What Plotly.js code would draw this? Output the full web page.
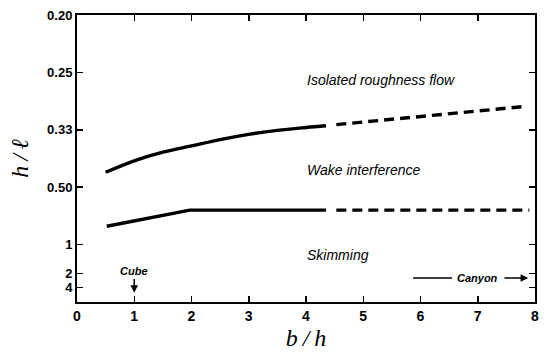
<!DOCTYPE html>
<html><head><meta charset="utf-8">
<script src="https://cdn.plot.ly/plotly-3.0.1.min.js"></script>
<style>body{margin:0;background:#fff}#c{width:550px;height:359px}</style>
</head><body><div id="c"></div>
<script>
// y axis is linear in l/h; tick labels show h/l
const yTickVals = [5, 4, 3, 2, 1, 0.5, 0.25];
const yTickText = ["0.20", "0.25", "0.33", "0.50", "1", "2", "4"];
const xTickVals = [0, 1, 2, 3, 4, 5, 6, 7, 8];

const upperSolidX = [0.5, 1.0, 1.5, 2.0, 2.5, 3.0, 3.5, 4.0, 4.35];
const upperSolidY = [2.26, 2.46, 2.61, 2.72, 2.83, 2.92, 2.99, 3.04, 3.07];
const upperDashX = [4.53, 7.85];
const upperDashY = [3.09, 3.41];

const lowerSolidX = [0.52, 1.97, 4.35];
const lowerSolidY = [1.32, 1.60, 1.60];
const lowerDashX = [4.53, 7.9];
const lowerDashY = [1.60, 1.60];

const regionLabels = ["Isolated roughness flow", "Wake interference", "Skimming"];
const regionX = [3.98, 3.98, 3.98];
const regionY = [3.87, 2.30, 0.82];

const solid = {color: "#000", width: 3.4};
const dashed = {color: "#000", width: 3.4, dash: "10px,6px"};
const traces = [
  {x: upperSolidX, y: upperSolidY, mode: "lines", line: Object.assign({shape: "spline"}, solid)},
  {x: upperDashX, y: upperDashY, mode: "lines", line: dashed},
  {x: lowerSolidX, y: lowerSolidY, mode: "lines", line: solid},
  {x: lowerDashX, y: lowerDashY, mode: "lines", line: dashed}
];

const annFont = {family: "Liberation Sans, Arial, sans-serif", size: 14, color: "#000", style: "italic"};
const annotations = regionLabels.map((t, i) => ({
  x: regionX[i], y: regionY[i], xref: "x", yref: "y", text: t, showarrow: false,
  xanchor: "left", yanchor: "middle", font: annFont
}));
annotations.push({
  x: 1, y: 0.16, ax: 1, ay: 0.40, xref: "x", yref: "y", axref: "x", ayref: "y",
  text: "<b>Cube</b>", showarrow: true, arrowhead: 2, arrowsize: 1, arrowwidth: 1.5,
  arrowcolor: "#000", yanchor: "bottom", font: Object.assign({}, annFont, {size: 11})
});
annotations.push({
  x: 7.0, y: 0.42, xref: "x", yref: "y", text: "<b>Canyon</b>", showarrow: false,
  font: Object.assign({}, annFont, {size: 11})
});
annotations.push({
  x: 7.88, y: 0.42, ax: 7.44, ay: 0.42, xref: "x", yref: "y", axref: "x", ayref: "y",
  text: "", showarrow: true, arrowhead: 2, arrowsize: 1, arrowwidth: 1.5, arrowcolor: "#000"
});

const axisCommon = {
  showline: true, linecolor: "#000", linewidth: 2, mirror: "ticks",
  ticks: "inside", ticklen: 6, tickwidth: 1.5, tickcolor: "#000",
  showgrid: false, zeroline: false,
  tickfont: {family: "Liberation Sans, Arial, sans-serif", size: 14, color: "#000", weight: "bold"}
};

const layout = {
  width: 550, height: 359,
  margin: {l: 77, r: 15, t: 15, b: 57},
  paper_bgcolor: "#fff", plot_bgcolor: "#fff",
  showlegend: false,
  xaxis: Object.assign({}, axisCommon, {
    range: [0, 8], tickvals: xTickVals,
    title: {text: "b\u2009/\u2009h", standoff: 6, font: {family: "Liberation Serif, Times New Roman, serif", size: 24, color: "#000", style: "italic"}}
  }),
  yaxis: Object.assign({}, axisCommon, {
    range: [0, 5], tickvals: yTickVals, ticktext: yTickText,
    tickfont: {family: "Liberation Sans, Arial, sans-serif", size: 13, color: "#000", weight: "bold"},
    title: {text: "h\u2009/\u2009\u2113", standoff: 12, font: {family: "Liberation Serif, Times New Roman, serif", size: 24, color: "#000", style: "italic"}}
  }),
  shapes: [{type: "line", xref: "x", yref: "y", x0: 5.87, x1: 6.55, y0: 0.42, y1: 0.42, line: {color: "#000", width: 1.5}}],
  annotations: annotations
};

Plotly.newPlot("c", traces, layout, {staticPlot: true, displayModeBar: false});
</script>
</body></html>
